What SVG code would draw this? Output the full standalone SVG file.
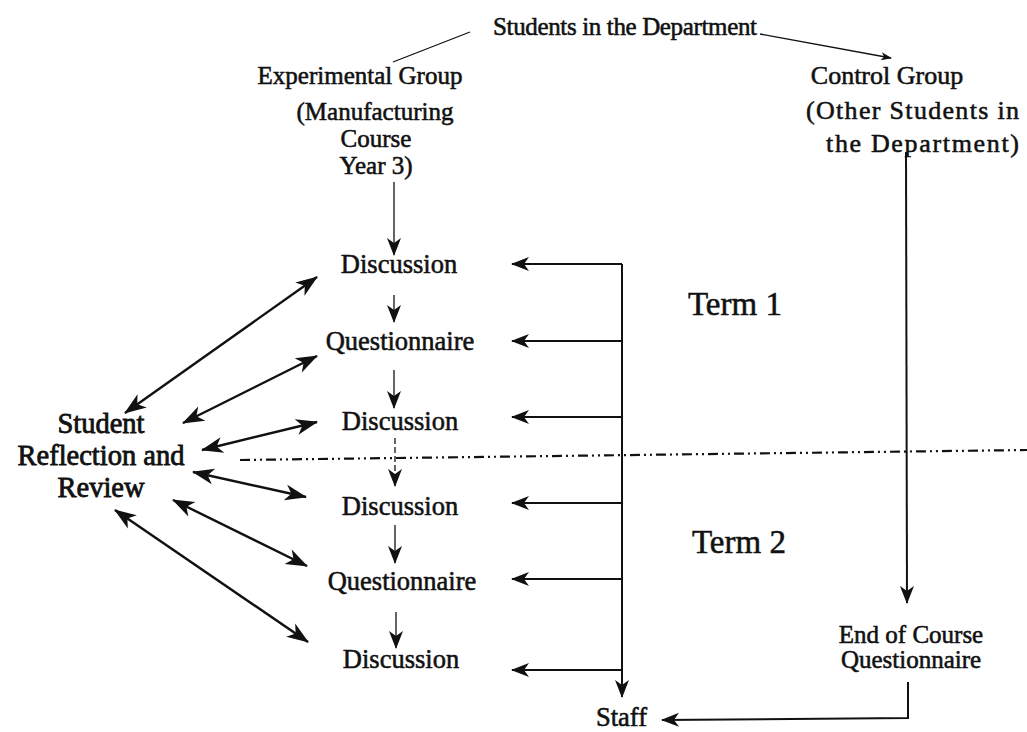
<svg xmlns="http://www.w3.org/2000/svg" width="1027" height="732" viewBox="0 0 1027 732">
<style>
text{font-family:"Liberation Serif","Times New Roman",serif;fill:#111;stroke:#111;stroke-width:0.55;}
.m{font-size:25px;}
.s{font-size:26.5px;}
.t{font-size:33px;}
.r{font-size:28.5px;stroke-width:0.8;}
.c{text-anchor:middle;}
.thick{stroke:#111;stroke-width:2.4;fill:none;}
.thin{stroke:#111;stroke-width:1.3;fill:none;}
.med{stroke:#111;stroke-width:2;fill:none;}
</style>
<defs>
<marker id="big" viewBox="-1 -9 24 18" refX="21" refY="0" markerWidth="24" markerHeight="18" markerUnits="userSpaceOnUse" orient="auto-start-reverse">
<path d="M0,-8 L22,0 L0,8 L6,0 Z" fill="#111"/>
</marker>
<marker id="sm" viewBox="-1 -8 20 16" refX="17" refY="0" markerWidth="20" markerHeight="16" markerUnits="userSpaceOnUse" orient="auto">
<path d="M0,-7 L18,0 L0,7 L5,0 Z" fill="#111"/>
</marker>
<marker id="tiny" viewBox="-1 -5 12 10" refX="10" refY="0" markerWidth="12" markerHeight="10" markerUnits="userSpaceOnUse" orient="auto">
<path d="M0,-4 L11,0 L0,4 L3,0 Z" fill="#111"/>
</marker>
</defs>

<g id="connectors">
<line class="thin" x1="393" y1="62" x2="470" y2="32"/>
<line class="thin" x1="760" y1="34" x2="891" y2="58" marker-end="url(#tiny)"/>
<line class="thin" x1="394" y1="182" x2="394" y2="255" marker-end="url(#sm)"/>
<line class="thin" x1="394" y1="295" x2="394" y2="322" marker-end="url(#sm)"/>
<line class="thin" x1="394" y1="370" x2="394" y2="408" marker-end="url(#sm)"/>
<line class="thin" x1="395" y1="438" x2="395" y2="486" stroke-dasharray="6 3" marker-end="url(#sm)"/>
<line class="thin" x1="395" y1="525" x2="395" y2="563" marker-end="url(#sm)"/>
<line class="thin" x1="396" y1="612" x2="396" y2="648" marker-end="url(#sm)"/>
<line class="thick" x1="125" y1="413" x2="317" y2="277" marker-start="url(#big)" marker-end="url(#big)"/>
<line class="thick" x1="183" y1="423" x2="317" y2="356" marker-start="url(#big)" marker-end="url(#big)"/>
<line class="thick" x1="202" y1="450" x2="317" y2="422" marker-start="url(#big)" marker-end="url(#big)"/>
<line class="thick" x1="193" y1="472" x2="306" y2="497" marker-start="url(#big)" marker-end="url(#big)"/>
<line class="thick" x1="173" y1="500" x2="307" y2="566" marker-start="url(#big)" marker-end="url(#big)"/>
<line class="thick" x1="115" y1="510" x2="308" y2="642" marker-start="url(#big)" marker-end="url(#big)"/>
<line class="med" x1="622" y1="264" x2="622" y2="697" marker-end="url(#sm)"/>
<line class="med" x1="622" y1="264" x2="512" y2="264" marker-end="url(#sm)"/>
<line class="med" x1="622" y1="341" x2="512" y2="341" marker-end="url(#sm)"/>
<line class="med" x1="622" y1="417" x2="512" y2="417" marker-end="url(#sm)"/>
<line class="med" x1="622" y1="503" x2="512" y2="503" marker-end="url(#sm)"/>
<line class="med" x1="622" y1="579" x2="512" y2="579" marker-end="url(#sm)"/>
<line class="med" x1="622" y1="670" x2="512" y2="670" marker-end="url(#sm)"/>
<line class="med" x1="906" y1="152" x2="907" y2="603" marker-end="url(#sm)"/>
<polyline class="med" points="908,682 908,718 662,720" marker-end="url(#sm)"/>
<line stroke="#111" stroke-width="2.2" x1="240" y1="460" x2="1027" y2="450" stroke-dasharray="10 4 2 4 2 4"/>
</g>

<g id="students-dept"><text class="m" x="493" y="35" textLength="264">Students in the Department</text></g>
<g id="experimental-group">
<text class="m c" x="360" y="84">Experimental Group</text>
<text class="m c" x="375" y="120">(Manufacturing</text>
<text class="m c" x="376" y="147">Course</text>
<text class="m c" x="376" y="174">Year 3)</text>
</g>
<g id="control-group">
<text class="m c" x="887" y="84" style="font-size:26px">Control Group</text>
<text class="m" x="806" y="119" style="font-size:26px" textLength="213">(Other Students in</text>
<text class="m" x="826" y="152" style="font-size:26px" textLength="193">the Department)</text>
</g>
<g id="discussion-1"><text class="s c" x="399" y="273">Discussion</text></g>
<g id="questionnaire-1"><text class="s c" x="400" y="350">Questionnaire</text></g>
<g id="discussion-2"><text class="s c" x="400" y="430">Discussion</text></g>
<g id="discussion-3"><text class="s c" x="400" y="515">Discussion</text></g>
<g id="questionnaire-2"><text class="s c" x="402" y="590">Questionnaire</text></g>
<g id="discussion-4"><text class="s c" x="401" y="668">Discussion</text></g>
<g id="student-reflection">
<text class="r c" x="101" y="433">Student</text>
<text class="r c" x="101" y="465">Reflection and</text>
<text class="r c" x="101" y="497">Review</text>
</g>
<g id="term-1"><text class="t" x="688" y="315">Term 1</text></g>
<g id="term-2"><text class="t" x="692" y="553">Term 2</text></g>
<g id="end-questionnaire">
<text class="s c" x="911" y="643" style="font-size:25px">End of Course</text>
<text class="s c" x="911" y="668" style="font-size:25px">Questionnaire</text>
</g>
<g id="staff"><text class="s" x="596" y="726">Staff</text></g>
</svg>
